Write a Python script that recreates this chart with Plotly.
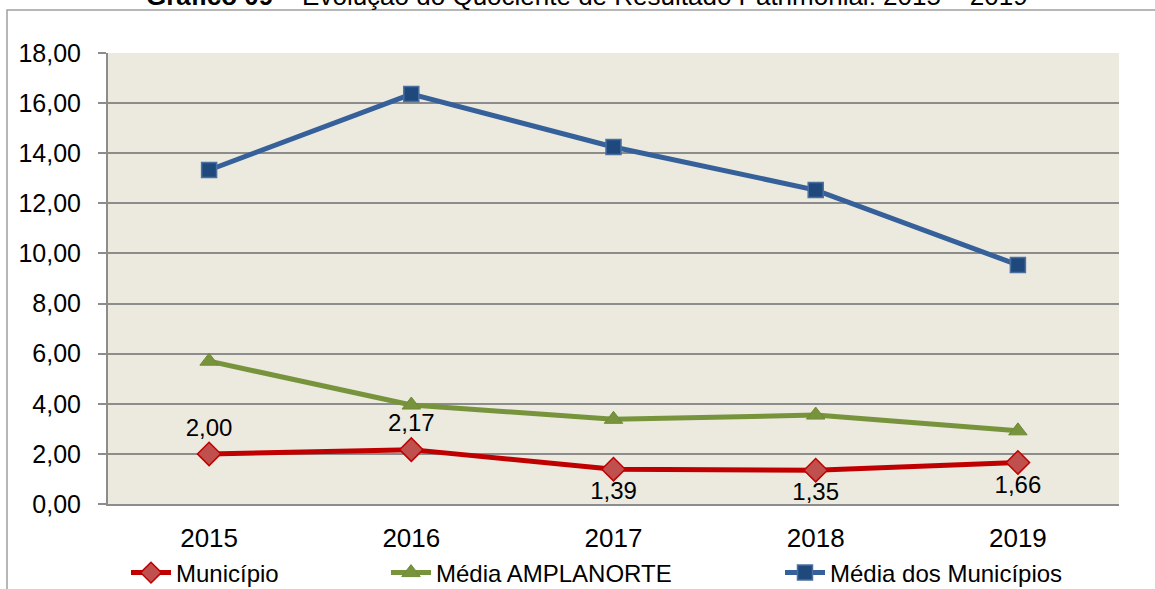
import plotly.graph_objects as go

years = ["2015", "2016", "2017", "2018", "2019"]
municipio = [2.00, 2.17, 1.39, 1.35, 1.66]
amplanorte = [5.70, 3.95, 3.38, 3.55, 2.92]
media_municipios = [13.33, 16.36, 14.25, 12.53, 9.54]
municipio_labels = ["2,00", "2,17", "1,39", "1,35", "1,66"]
municipio_label_pos = ["top center", "top center", "bottom center", "bottom center", "bottom center"]
y_ticks = [0, 2, 4, 6, 8, 10, 12, 14, 16, 18]

FONT = "Arial, Liberation Sans, sans-serif"

L, R, T, B = 108, 36, 53, 85
W, H = 1155, 589
pw, ph = W - L - R, H - T - B

def px_x(px):
    return (px - L) / pw

def px_y(py):
    return (H - B - py) / ph

fig = go.Figure()

fig.add_trace(go.Scatter(
    x=years, y=municipio, name="Município", mode="lines+markers+text",
    line=dict(color="#C00000", width=5),
    marker=dict(symbol="diamond", size=18, color="#C0504D", line=dict(color="#C00000", width=1.5)),
    text=municipio_labels, textposition=municipio_label_pos,
    textfont=dict(family=FONT, size=24, color="#000000"),
    legend="legend",
))
fig.add_trace(go.Scatter(
    x=years, y=amplanorte, name="Média AMPLANORTE", mode="lines+markers",
    line=dict(color="#77933C", width=5),
    marker=dict(symbol="triangle-up", size=16, color="#77933C", line=dict(color="#6E8A36", width=1)),
    legend="legend2",
))
fig.add_trace(go.Scatter(
    x=years, y=media_municipios, name="Média dos Municípios", mode="lines+markers",
    line=dict(color="#35609A", width=5),
    marker=dict(symbol="square", size=15, color="#1F497D", line=dict(color="#4A6FA0", width=1.5)),
    legend="legend3",
))

legend_common = dict(orientation="h", yanchor="middle", xanchor="left",
                     font=dict(family=FONT, size=24, color="#000000"),
                     bgcolor="rgba(0,0,0,0)", itemwidth=40)
fig.update_layout(
    width=W, height=H,
    margin=dict(l=L, r=R, t=T, b=B, autoexpand=False),
    paper_bgcolor="#FFFFFF",
    plot_bgcolor="#ECE9DF",
    separators=",.",
    showlegend=True,
    font=dict(family=FONT, color="#000000"),
    legend=dict(x=px_x(126), y=px_y(573), visible=True, **legend_common),
    legend2=dict(x=px_x(386), y=px_y(573), visible=True, **legend_common),
    legend3=dict(x=px_x(780), y=px_y(573), visible=True, **legend_common),
    xaxis=dict(
        type="category", range=[-0.5, 4.5], showgrid=False,
        showline=True, linecolor="#8C8C8C", linewidth=2,
        ticks="", tickfont=dict(family=FONT, size=26, color="#000000"),
        ticklabelstandoff=10, fixedrange=True,
    ),
    yaxis=dict(
        range=[0, 18], tickvals=y_ticks, tickformat=".2f",
        showgrid=True, gridcolor="#8C8C8C", gridwidth=2,
        showline=True, linecolor="#8C8C8C", linewidth=2,
        ticks="outside", ticklen=8, tickcolor="#8C8C8C", tickwidth=2,
        tickfont=dict(family=FONT, size=25, color="#000000"),
        ticklabelstandoff=12, zeroline=False, fixedrange=True,
    ),
    shapes=[dict(type="rect", xref="paper", yref="paper",
                 x0=px_x(7), x1=px_x(1200), y0=px_y(700), y1=px_y(10),
                 line=dict(color="#A0A0A0", width=1.5), fillcolor="rgba(0,0,0,0)", layer="below")],
    annotations=[dict(
        xref="paper", yref="paper", x=px_x(587), y=px_y(13), xanchor="center", yanchor="bottom",
        text="<b>Gráfico 09</b> – Evolução do Quociente de Resultado Patrimonial: 2015 – 2019",
        showarrow=False, font=dict(family=FONT, size=26, color="#000000"),
    )],
)

fig.write_html(
    "out.html",
    config={"displayModeBar": False},
    post_script="document.body.style.margin='0px';document.body.style.overflow='hidden';",
)
